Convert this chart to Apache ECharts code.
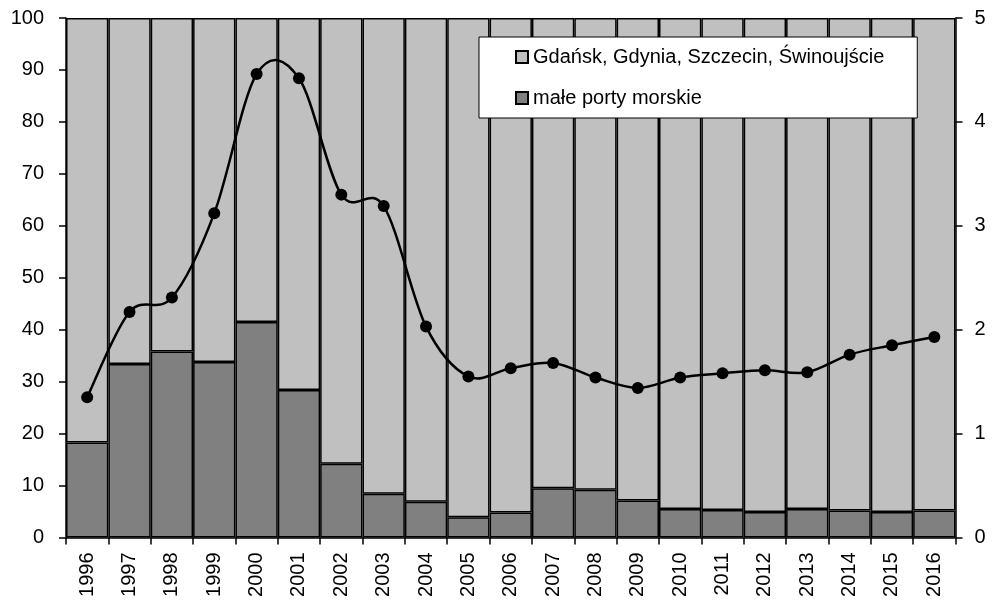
<!DOCTYPE html>
<html>
<head>
<meta charset="utf-8">
<script src="https://cdn.jsdelivr.net/npm/echarts@6/dist/echarts.min.js"></script>
<style>html,body{margin:0;padding:0;background:#fff}#c{width:992px;height:603px}</style>
</head>
<body>
<div id="c"></div>
<script>
const years = ['1996','1997','1998','1999','2000','2001','2002','2003','2004','2005','2006','2007','2008','2009','2010','2011','2012','2013','2014','2015','2016'];
const smallPorts = [18.3,33.4,35.8,33.8,41.5,28.4,14.2,8.4,6.9,3.9,4.8,9.5,9.2,7.1,5.5,5.3,4.9,5.5,5.2,4.9,5.2];
const bigPorts = [81.7,66.6,64.2,66.2,58.5,71.6,85.8,91.6,93.1,96.1,95.2,90.5,90.8,92.9,94.5,94.7,95.1,94.5,94.8,95.1,94.8];
const lineValues = [1.35,2.17,2.31,3.12,4.46,4.42,3.30,3.19,2.03,1.55,1.63,1.68,1.54,1.44,1.54,1.58,1.61,1.59,1.76,1.85,1.93];
const leftTicks = [0,10,20,30,40,50,60,70,80,90,100];
const rightTicks = [0,1,2,3,4,5];
const nameBig = 'Gdańsk, Gdynia, Szczecin, Świnoujście';
const nameSmall = 'małe porty morskie';

const font = 'Liberation Sans, Arial, sans-serif';
const chart = echarts.init(document.getElementById('c'), null, {renderer: 'canvas'});

// Catmull-Rom style smoothed segment between point i and i+1 (like spreadsheet smoothing)
function renderSegment(params, api) {
  const i = params.dataIndex;
  const n = lineValues.length;
  if (i >= n - 1) return null;
  const pt = j => api.coord([Math.max(0, Math.min(n - 1, j)), lineValues[Math.max(0, Math.min(n - 1, j))]]);
  const p0 = pt(i - 1), p1 = pt(i), p2 = pt(i + 1), p3 = pt(i + 2);
  const k = 1 / 6;
  return {
    type: 'bezierCurve',
    shape: {
      x1: p1[0], y1: p1[1], x2: p2[0], y2: p2[1],
      cpx1: p1[0] + (p2[0] - p0[0]) * k, cpy1: p1[1] + (p2[1] - p0[1]) * k,
      cpx2: p2[0] - (p3[0] - p1[0]) * k, cpy2: p2[1] - (p3[1] - p1[1]) * k
    },
    style: {stroke: '#000', lineWidth: 2.5, fill: null}
  };
}

chart.setOption({
  animation: false,
  backgroundColor: '#fff',
  textStyle: {fontFamily: font, color: '#000'},
  grid: {left: 66, right: 36.5, top: 18, bottom: 65.5, containLabel: false},
  legend: {
    data: [nameBig, nameSmall],
    orient: 'vertical',
    left: 479, top: 37,
    padding: [10, 33, 10, 36],
    itemGap: 21,
    itemWidth: 12, itemHeight: 12,
    icon: 'rect',
    backgroundColor: '#fff',
    borderColor: '#000', borderWidth: 1,
    textStyle: {fontSize: 20, fontFamily: font, color: '#000'}
  },
  xAxis: {
    type: 'category', data: years, boundaryGap: true,
    axisLine: {lineStyle: {color: '#000', width: 1.5}},
    axisTick: {show: true, alignWithLabel: false, length: 7, lineStyle: {color: '#000', width: 1.5}},
    axisLabel: {rotate: 90, fontSize: 20, color: '#000', margin: 15, interval: 0, fontFamily: font},
    splitLine: {show: false}
  },
  yAxis: [{
    type: 'value', min: 0, max: 100, interval: 10,
    axisLine: {show: true, lineStyle: {color: '#000', width: 1.5}},
    axisTick: {show: true, length: 7, lineStyle: {color: '#000', width: 1.5}},
    axisLabel: {fontSize: 20, color: '#000', margin: 22, fontFamily: font,
      formatter: v => leftTicks.includes(v) ? String(v) : ''},
    splitLine: {show: false}
  }, {
    type: 'value', min: 0, max: 5, interval: 1, position: 'right',
    axisLine: {show: true, lineStyle: {color: '#000', width: 1.5}},
    axisTick: {show: true, length: 7, lineStyle: {color: '#000', width: 1.5}},
    axisLabel: {fontSize: 20, color: '#000', margin: 19, fontFamily: font,
      formatter: v => rightTicks.includes(v) ? String(v) : ''},
    splitLine: {show: false}
  }],
  series: [{
    name: nameSmall, type: 'bar', stack: 'ports', data: smallPorts,
    barCategoryGap: '0%', barGap: '0%',
    itemStyle: {color: '#808080', borderColor: '#000', borderWidth: 1.5}
  }, {
    name: nameBig, type: 'bar', stack: 'ports', data: bigPorts,
    barCategoryGap: '0%',
    itemStyle: {color: '#c0c0c0', borderColor: '#000', borderWidth: 1.5}
  }, {
    name: 'curve', type: 'custom', yAxisIndex: 1,
    data: lineValues.map((v, i) => [i, v]),
    encode: {x: 0, y: 1},
    renderItem: renderSegment,
    clip: false,
    z: 10
  }, {
    name: 'points', type: 'scatter', yAxisIndex: 1,
    data: lineValues.map((v, i) => [i, v]),
    symbol: 'circle', symbolSize: 12,
    itemStyle: {color: '#000', opacity: 1},
    z: 11
  }]
});
</script>
</body>
</html>
